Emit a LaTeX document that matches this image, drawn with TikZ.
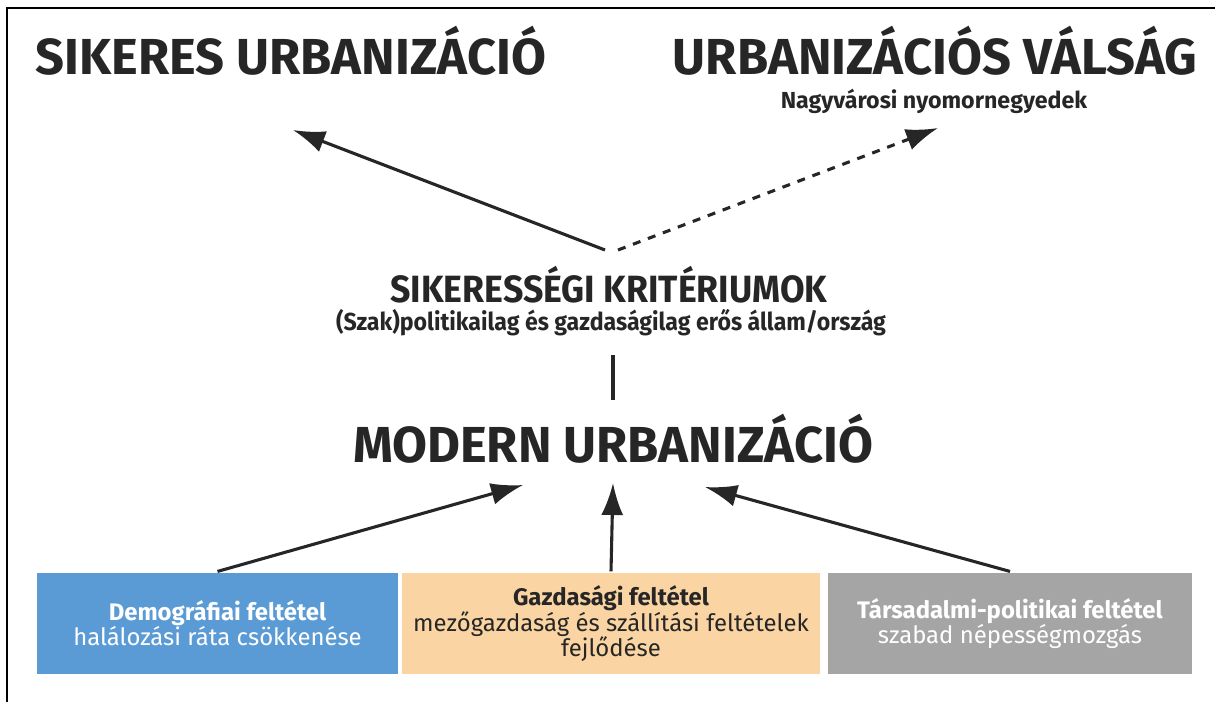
\documentclass[tikz,border=0pt]{standalone}
\usepackage{fontspec}
\setmainfont{Fira Sans}
\usetikzlibrary{arrows.meta}
\definecolor{ink}{HTML}{262626}
\definecolor{demoblue}{HTML}{5B9BD5}
\definecolor{gazdpeach}{HTML}{FAD5A3}
\definecolor{tarsgrey}{HTML}{A5A5A5}
\newcommand{\squeeze}[2][0.94]{\scalebox{#1}[1]{#2}}

\begin{document}
\begin{tikzpicture}[x = 0.025cm, y = -0.025cm, line width = 2.2pt, draw = ink, text = ink,
	>={Latex[length = 0.8cm, width = 0.55cm]},
	title/.style = {inner sep = 0, anchor = base, font = \fontsize{36}{40}\selectfont\bfseries},
	subtitle/.style = {inner sep = 0, anchor = base, font = \fontsize{16.5}{18}\selectfont\bfseries},
	crit/.style = {inner sep = 0, anchor = base, font = \fontsize{27}{30}\selectfont\bfseries},
	condbox/.style = {inner sep = 0, minimum height = 2.525cm, align = center, font = \fontsize{17}{17.8}\selectfont}]
					\useasboundingbox (0, 0) rectangle (1215, 702);
					\draw [line width = 1.5pt, draw = black] (7, 702) -- (7, 8) -- (1215, 8);

					\node [title] (siker) at (291, 75) {SIKERES URBANIZÁCIÓ};
					\node [title] (valsag) at (935, 75) {URBANIZÁCIÓS VÁLSÁG};
					\node [subtitle] (nyomor) at (934, 109) {Nagyvárosi nyomornegyedek};
					\node [crit] (krit) at (609, 302) {\squeeze{SIKERESSÉGI KRITÉRIUMOK}};
					\node [subtitle, font = \fontsize{17.5}{20}\selectfont\bfseries] (allam) at (611, 330) {\squeeze{(Szak)politikailag és gazdaságilag erős állam/ország}};
					\node [title] (modern) at (613, 462) {MODERN URBANIZÁCIÓ};

					\node [condbox, fill = demoblue, text = white, minimum width = 9.025cm] (demo) at (217.5, 623.5) {\textbf{Demográfiai feltétel}\\halálozási ráta csökkenése};
					\node [condbox, fill = gazdpeach, minimum width = 10.45cm] (gazd) at (611, 623.5) {\textbf{Gazdasági feltétel}\\mezőgazdaság és szállítási feltételek\\fejlődése};
					\node [condbox, fill = tarsgrey, text = white, minimum width = 9.1cm] (tars) at (1010, 623.5) {\textbf{Társadalmi-politikai feltétel}\\szabad népességmozgás};

					\coordinate (sikertip) at (293, 130);
					\coordinate (valsagtip) at (938, 128);
					\coordinate (kritl) at (605, 250);
					\coordinate (kritr) at (618, 250);
					\coordinate (linetop) at (613, 355);
					\coordinate (linebot) at (613, 400);
					\coordinate (demotip) at (523, 485);
					\coordinate (gazdtip) at (613, 483);
					\coordinate (tarstip) at (705, 487);

					\draw [->] (kritl) to (sikertip);
					\draw [->, dash pattern = on 0.2cm off 0.2cm] (kritr) to (valsagtip);
					\draw (linetop) to (linebot);
					\draw [->] (demo.north) to (demotip);
					\draw [->] (gazd.north) to (gazdtip);
					\draw [->] (tars.north) to (tarstip);
				\end{tikzpicture}
\end{document}
